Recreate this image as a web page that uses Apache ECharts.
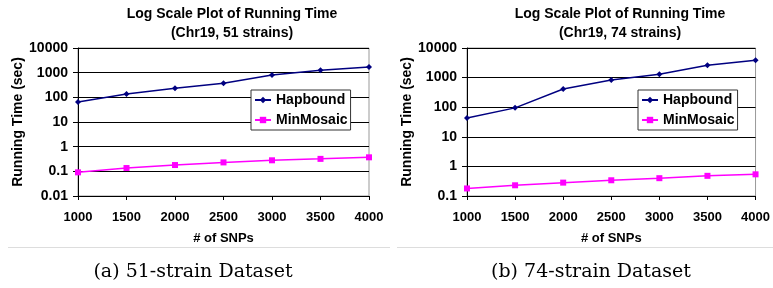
<!DOCTYPE html>
<html>
<head>
<meta charset="utf-8">
<script src="https://cdn.jsdelivr.net/npm/echarts@6/dist/echarts.min.js"></script>
<style>
	html, body { margin: 0; padding: 0; background: #fff; }
	#main { width: 773px; height: 288px; }
</style>
</head>
<body>
<div id="main"></div>
<script>
	// # of SNPs
	var snps = [1000, 1500, 2000, 2500, 3000, 3500, 4000];
	// (a) 51 strains
	var hapbound51 = [65, 136, 232, 370, 800, 1240, 1700];
	var minmosaic51 = [0.091, 0.136, 0.18, 0.23, 0.28, 0.32, 0.37];
	// (b) 74 strains
	var hapbound74 = [43, 95, 410, 830, 1300, 2620, 3880];
	var minmosaic74 = [0.18, 0.23, 0.283, 0.34, 0.40, 0.48, 0.54];

	var chart = echarts.init(document.getElementById('main'));

	var font = 'Liberation Sans, Arial, sans-serif';
	var bold = { fontFamily: font, fontWeight: 'bold', color: '#000' };

	// 把x和y拼成点
	function pairs(ys) {
		return snps.map(function (x, i) { return [x, ys[i]]; });
	}

	function fmt(v) {
		return String(parseFloat(v.toPrecision(6)));
	}

	function xAxis(idx) {
		return {
			type: 'value', gridIndex: idx,
			min: 1000, max: 4000, interval: 500,
			name: '# of SNPs', nameLocation: 'middle', nameGap: 36,
			nameTextStyle: Object.assign({ fontSize: 13 }, bold),
			axisLine: { show: true, lineStyle: { color: '#000', width: 1 } },
			axisTick: { show: true, length: 4, lineStyle: { color: '#000' } },
			axisLabel: Object.assign({ fontSize: 13, margin: 15, formatter: fmt }, bold),
			splitLine: { show: false }
		};
	}

	function yAxis(idx, min) {
		return {
			type: 'log', gridIndex: idx, logBase: 10,
			min: min, max: 10000,
			name: 'Running Time (sec)', nameLocation: 'middle', nameGap: 50,
			nameTextStyle: Object.assign({ fontSize: 14 }, bold),
			axisLine: { show: true, lineStyle: { color: '#000', width: 1 } },
			axisTick: { show: true, length: 5, lineStyle: { color: '#000' } },
			axisLabel: Object.assign({ fontSize: 14, margin: 10, formatter: fmt }, bold),
			splitLine: { show: true, lineStyle: { color: '#000', width: 1 } },
			minorTick: { show: false }
		};
	}

	function lineSeries(name, idx, ys) {
		var isHap = name === 'Hapbound';
		return {
			name: name, type: 'line',
			xAxisIndex: idx, yAxisIndex: idx,
			data: pairs(ys),
			symbol: isHap ? 'diamond' : 'rect',
			symbolSize: isHap ? 6 : 6,
			showAllSymbol: true,
			color: isHap ? '#000080' : '#FF00FF',
			lineStyle: { width: 1.5, color: isHap ? '#000080' : '#FF00FF' },
			animation: false
		};
	}

	function legend(left) {
		return {
			orient: 'vertical', left: left, top: 90,
			itemWidth: 16, itemHeight: 8, itemGap: 6,
			padding: [3, 3],
			backgroundColor: '#fff', borderColor: '#333', borderWidth: 1,
			textStyle: Object.assign({ fontSize: 14, lineHeight: 14 }, bold),
			selectedMode: false,
			data: ['Hapbound', 'MinMosaic']
		};
	}

	var titleStyle = Object.assign({ fontSize: 14, lineHeight: 19 }, bold);
	var capStyle = { fontFamily: 'DejaVu Serif, serif', fontSize: 19, fontWeight: 'normal', color: '#000' };

	var option = {
		backgroundColor: '#fff',
		animation: false,
		title: [
			{ text: 'Log Scale Plot of Running Time\n(Chr19, 51 strains)', left: 227, top: 0, textAlign: 'center', textStyle: titleStyle },
			{ text: 'Log Scale Plot of Running Time\n(Chr19, 74 strains)', left: 615, top: 0, textAlign: 'center', textStyle: titleStyle },
			{ text: '(a) 51-strain Dataset', left: 188, top: 258, textAlign: 'center', textStyle: capStyle },
			{ text: '(b) 74-strain Dataset', left: 586, top: 258, textAlign: 'center', textStyle: capStyle }
		],
		grid: [
			{ left: 78, top: 48, width: 291, height: 148, show: true, borderColor: '#999', borderWidth: 1 },
			{ left: 467, top: 48, width: 290, height: 148, show: true, borderColor: '#999', borderWidth: 1 }
		],
		xAxis: [xAxis(0), xAxis(1)],
		yAxis: [yAxis(0, 0.01), yAxis(1, 0.1)],
		legend: [legend(251), legend(638)],
		series: [
			lineSeries('Hapbound', 0, hapbound51),
			lineSeries('MinMosaic', 0, minmosaic51),
			lineSeries('Hapbound', 1, hapbound74),
			lineSeries('MinMosaic', 1, minmosaic74)
		],
		// 子图下面的灰色分隔线
		graphic: [
			{ type: 'line', shape: { x1: 8, y1: 247.5, x2: 390, y2: 247.5 }, style: { stroke: '#ddd', lineWidth: 1 } },
			{ type: 'line', shape: { x1: 397, y1: 247.5, x2: 773, y2: 247.5 }, style: { stroke: '#ddd', lineWidth: 1 } }
		]
	};

	chart.setOption(option);
</script>
</body>
</html>
